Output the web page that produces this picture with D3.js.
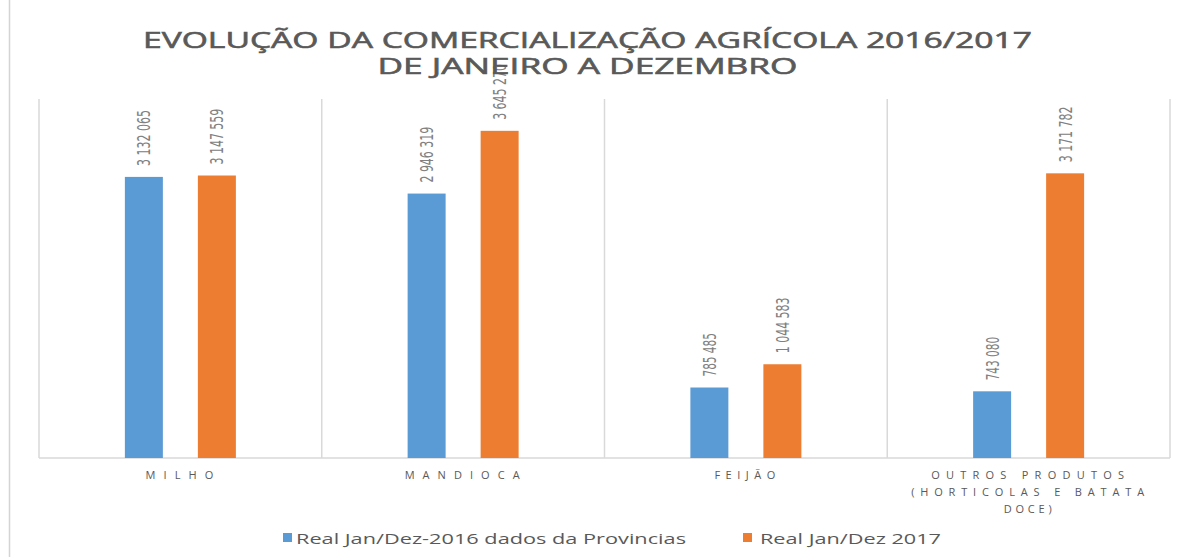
<!DOCTYPE html>
<html><head><meta charset="utf-8">
<script src="https://cdn.jsdelivr.net/npm/d3@7"></script>
<style>body{margin:0;background:#fff}svg{display:block}</style>
</head><body>
<svg id="c" width="1185" height="557"></svg>
<script>
const categories = [["MILHO"], ["MANDIOCA"], ["FEIJÃO"], ["OUTROS PRODUTOS", "(HORTICOLAS E BATATA", "DOCE)"]];
const categoryKeys = ["MILHO", "MANDIOCA", "FEIJÃO", "OUTROS"];
const seriesNames = ["Real Jan/Dez-2016 dados da Provincias", "Real Jan/Dez 2017"];
const values2016 = [3132065, 2946319, 785485, 743080];
const values2017 = [3147559, 3645270, 1044583, 3171782];
const labels2016 = ["3 132 065", "2 946 319", "785 485", "743 080"];
const labels2017 = ["3 147 559", "3 645 270", "1 044 583", "3 171 782"];
const titleLines = ["EVOLUÇÃO DA COMERCIALIZAÇÃO AGRÍCOLA 2016/2017", "DE JANEIRO A DEZEMBRO"];
const colors = ["#5B9BD5", "#ED7D31"];

(function () {
const svg = d3.select("#c");
const pLeft = 39, pRight = 1170, pTop = 99, base = 458;

svg.append("line").attr("x1", 9.5).attr("x2", 9.5).attr("y1", 0).attr("y2", 557)
  .attr("stroke", "#d4d4d4").attr("stroke-width", 1.5);

const x = d3.scaleBand().domain(categoryKeys).range([pLeft, pRight]).padding(0);
const bw = x.bandwidth();
const xs = d3.scaleBand().domain([0, 1]).range([bw / 2 - 55.5, bw / 2 + 55.5]).paddingInner(0.4795).paddingOuter(0);
const y = d3.scaleLinear().domain([0, 4000000]).range([base, pTop]);

const seps = categoryKeys.map(k => x(k)).concat([pRight]);
svg.append("g").selectAll("line").data(seps).join("line")
  .attr("x1", d => d).attr("x2", d => d).attr("y1", pTop).attr("y2", base)
  .attr("stroke", "#d9d9d9").attr("stroke-width", 1.5);
svg.append("line").attr("x1", pLeft).attr("x2", pRight).attr("y1", base).attr("y2", base)
  .attr("stroke", "#d9d9d9").attr("stroke-width", 1.5);

const rows = categoryKeys.map((k, i) => ({k, vals: [values2016[i], values2017[i]], labs: [labels2016[i], labels2017[i]]}));
const g = svg.append("g");
rows.forEach(r => {
  r.vals.forEach((v, s) => {
    const bx = x(r.k) + xs(s);
    g.append("rect").attr("x", bx).attr("y", y(v)).attr("width", xs.bandwidth())
      .attr("height", base - y(v)).attr("fill", colors[s]);
    const cx = bx + xs.bandwidth() / 2, ly = y(v) - 11;
    const lab = r.labs[s];
    g.append("text").attr("transform", `translate(${cx},${ly}) rotate(-90)`)
      .attr("text-anchor", "start").attr("dominant-baseline", "central")
      .attr("font-family", "DejaVu Sans Condensed, Liberation Sans, sans-serif")
      .attr("font-size", 18).attr("fill", "#808080")
      .attr("textLength", lab.length * 6.2).attr("lengthAdjust", "spacingAndGlyphs")
      .text(lab);
  });
});

const tW = [889, 420];
titleLines.forEach((t, i) => {
  svg.append("text").attr("x", 587.5).attr("y", 48 + i * 26).attr("text-anchor", "middle")
    .attr("font-family", "Open Sans, sans-serif").attr("font-weight", 400).attr("font-size", 22)
    .attr("fill", "#595959").attr("stroke", "#595959").attr("stroke-width", 0.6)
    .attr("textLength", tW[i]).attr("lengthAdjust", "spacingAndGlyphs")
    .text(t);
});

const catW = {"MILHO": 70, "MANDIOCA": 117, "FEIJÃO": 63, "OUTROS PRODUTOS": 195, "(HORTICOLAS E BATATA": 235, "DOCE)": 50};
categories.forEach((lines, i) => {
  lines.forEach((t, j) => {
    svg.append("text").attr("x", x(categoryKeys[i]) + bw / 2).attr("y", 479 + j * 17)
      .attr("text-anchor", "middle").attr("font-family", "Open Sans, sans-serif")
      .attr("font-size", 11).attr("fill", "#595959").attr("letter-spacing", 2)
      .attr("textLength", catW[t]).attr("lengthAdjust", "spacing").text(t);
  });
});

const leg = [{x: 283, tx: 296, w: 390}, {x: 743, tx: 760, w: 181}];
seriesNames.forEach((n, i) => {
  svg.append("rect").attr("x", leg[i].x).attr("y", 533).attr("width", 9).attr("height", 9).attr("fill", colors[i]);
  svg.append("text").attr("x", leg[i].tx).attr("y", 543.5).attr("font-family", "Open Sans, sans-serif")
    .attr("font-size", 15).attr("fill", "#595959")
    .attr("textLength", leg[i].w).attr("lengthAdjust", "spacingAndGlyphs").text(n);
});
})();
</script>
</body></html>
